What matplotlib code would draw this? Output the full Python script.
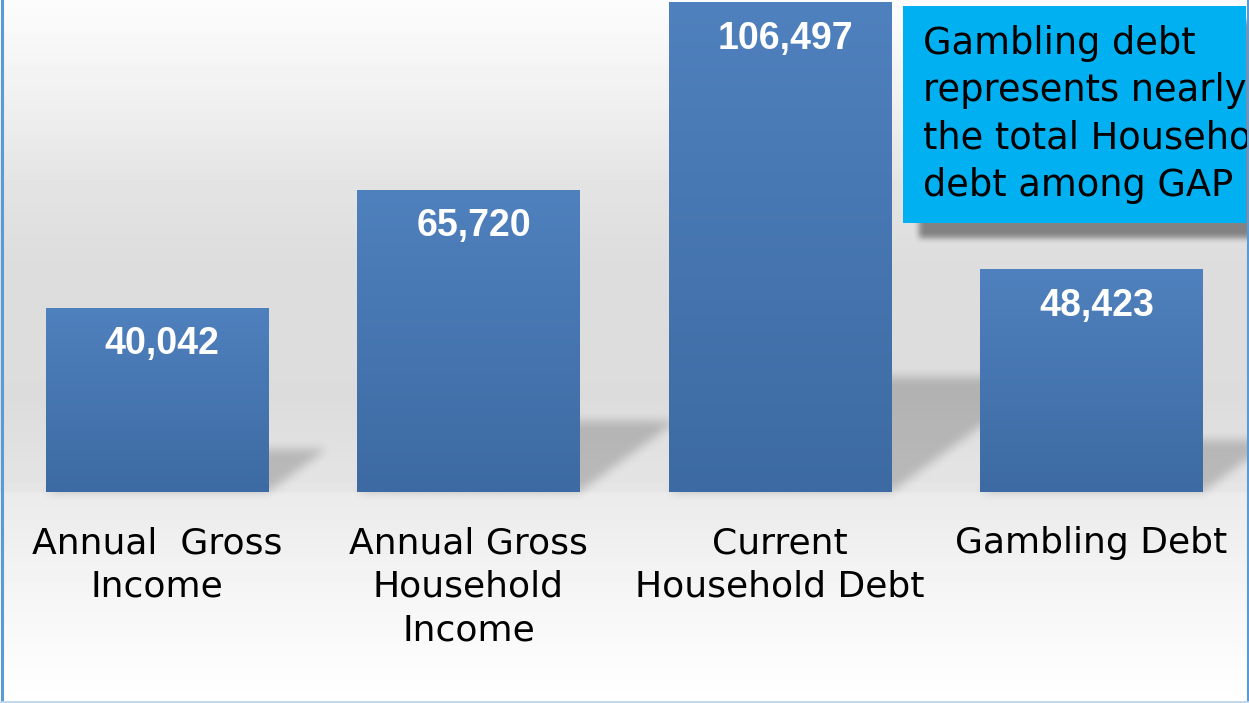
import numpy as np
import matplotlib
matplotlib.use("Agg")
import matplotlib.pyplot as plt
from matplotlib.patches import Rectangle

# data
categories = ["Annual  Gross\nIncome",
              "Annual Gross\nHousehold\nIncome",
              "Current\nHousehold Debt",
              "Gambling Debt"]
values = [40042, 65720, 106497, 48423]
value_labels = ["40,042", "65,720", "106,497", "48,423"]
callout = "Gambling debt\nrepresents nearly half of\nthe total Household\ndebt among GAP"

W, H = 1249, 703
fig = plt.figure(figsize=(W / 100, H / 100), dpi=100)
ax = fig.add_axes([0, 0, 1, 1])
ax.set_axis_off()

x = np.arange(len(values))
# axes limits so that bars sit on a baseline 211 px above the bottom
per_px = 106497 / 490
ax.set_xlim(-157 / 311.5, (W - 157) / 311.5)
ax.set_ylim(-211 * per_px, 492 * per_px)
ax.set_autoscale_on(False)

# background: light grey band fading to white at top and bottom
rows = np.arange(H)
stops_y = [0, 100, 180, 260, 400, 490, 493, 520, 600, 690, 703]
stops_v = [252, 240, 228, 221, 220, 229, 235, 237, 246, 254, 255]
g = np.interp(rows, stops_y, stops_v) / 255
bg = np.repeat(g[:, None], W, axis=1)
ax.imshow(bg, cmap="gray", vmin=0, vmax=1, extent=[0, 1, 0, 1],
          transform=ax.transAxes, aspect="auto", zorder=0, interpolation="nearest")

bars = ax.bar(x, values, width=0.713, color="#4a7ab4", zorder=3, linewidth=0)

# shadows, built on a pixel grid from the bar geometry
def box_blur(a, r):
    for axis in (0, 1):
        c = np.cumsum(np.pad(a, [(r + 1, r) if i == axis else (0, 0) for i in range(2)],
                             mode="edge"), axis=axis)
        if axis == 0:
            a = (c[2 * r + 1:] - c[:-2 * r - 1]) / (2 * r + 1)
        else:
            a = (c[:, 2 * r + 1:] - c[:, :-2 * r - 1]) / (2 * r + 1)
    return a

jj, ii = np.meshgrid(np.arange(W) + 0.5, np.arange(H) + 0.5)
bar_mask = np.zeros((H, W))
for b in bars:
    (x0, y0), (x1, y1) = ax.transData.transform([(b.get_x(), 0),
                                                 (b.get_x() + b.get_width(), b.get_height())])
    hpx = y1 - y0
    base = H - y0
    sh = 0.235 * hpx
    up = base - ii
    inside = (up >= 0) & (up <= sh) & (jj >= x0 + 1.36 * up) & (jj <= x1 + 1.36 * up)
    bar_mask = np.maximum(bar_mask, inside.astype(float))
bar_mask = box_blur(box_blur(bar_mask, 5), 5)

box = (903, 6, 1246, 223)  # left, top, right, bottom in px
box_mask = ((jj >= box[0] + 16) & (jj <= box[2] + 30) &
            (ii >= box[1] + 15) & (ii <= box[3] + 15)).astype(float)
box_mask = box_blur(box_blur(box_mask, 3), 3)

alpha = np.clip(0.19 * bar_mask + 0.42 * box_mask, 0, 1)
shadow = np.zeros((H, W, 4))
shadow[..., 3] = alpha
ax.imshow(shadow, extent=[0, 1, 0, 1], transform=ax.transAxes,
          aspect="auto", zorder=1, interpolation="nearest")

# vertical gradient inside every bar
grad = np.linspace(0, 1, 256)[:, None]
top_c = np.array([79, 129, 190]) / 255
bot_c = np.array([61, 106, 162]) / 255
grad_img = top_c[None, None, :] * (1 - grad[..., None]) + bot_c[None, None, :] * grad[..., None]
for b in bars:
    im = ax.imshow(grad_img, extent=[b.get_x(), b.get_x() + b.get_width(), 0, b.get_height()],
                   aspect="auto", zorder=4, interpolation="bilinear")
    im.set_clip_path(b)

for xi, v, lab in zip(x, values, value_labels):
    ax.annotate(lab, (xi, v), xytext=(3.6, -26.3), textcoords="offset points",
                ha="center", va="center", color="white", fontsize=27,
                fontweight="bold", family="Liberation Sans", zorder=5)

for xi, cat in zip(x, categories):
    ax.annotate(cat, (xi, 0), xytext=(0, -24.5), textcoords="offset points",
                ha="center", va="top", color="black", fontsize=26,
                family="DejaVu Sans", linespacing=1.36, zorder=5)

# call-out box
fig.add_artist(Rectangle((box[0] / W, 1 - box[3] / H), (box[2] - box[0]) / W,
                         (box[3] - box[1]) / H, transform=fig.transFigure,
                         facecolor="#00b0f0", edgecolor="none", zorder=6))
fig.text(923 / W, 1 - 25 / H, callout, ha="left", va="top", fontsize=26.5,
         family="DejaVu Sans", color="black", linespacing=1.36, zorder=7)

# slide frame
fig.add_artist(plt.Line2D([1.5 / W, 1.5 / W], [0, 1], color="#5b9bd5", lw=2.2,
                          transform=fig.transFigure, zorder=8))
fig.add_artist(plt.Line2D([1 - 1.5 / W, 1 - 1.5 / W], [0, 1], color="#5b9bd5", lw=1.5,
                          transform=fig.transFigure, zorder=8))
fig.add_artist(plt.Line2D([0, 1], [1.5 / H, 1.5 / H], color="#bdd7ee", lw=2,
                          transform=fig.transFigure, zorder=8))

fig.savefig("out.png", dpi=100)
